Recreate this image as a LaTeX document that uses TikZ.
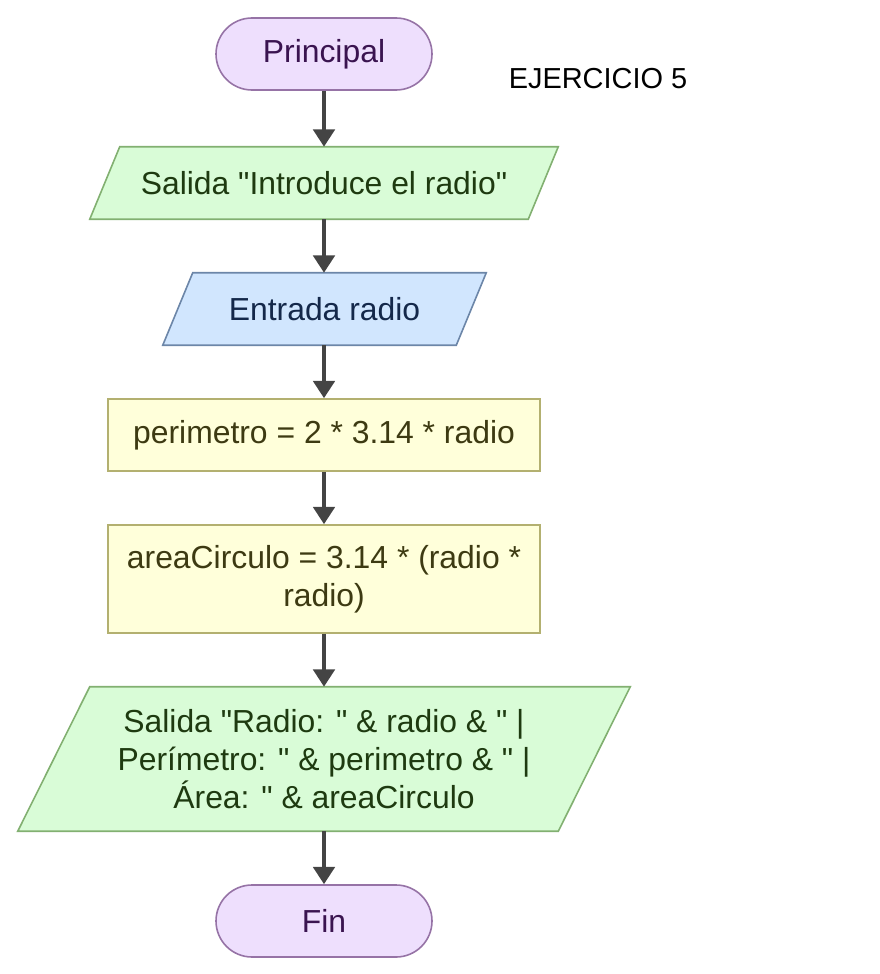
\documentclass[tikz,border=0pt]{standalone}
\usepackage{fontspec}
\setmainfont{Liberation Sans}[Ligatures=TeXOff]
\usetikzlibrary{arrows.meta,backgrounds}
\definecolor{termfill}{HTML}{EEDFFD}
\definecolor{termdraw}{HTML}{9673A6}
\definecolor{termtext}{HTML}{3A1450}
\definecolor{gfill}{HTML}{D9FCD7}
\definecolor{gdraw}{HTML}{82B071}
\definecolor{gtext}{HTML}{1E3A10}
\definecolor{bfill}{HTML}{D1E6FE}
\definecolor{bdraw}{HTML}{6C86A8}
\definecolor{btext}{HTML}{14284A}
\definecolor{yfill}{HTML}{FFFFDA}
\definecolor{ydraw}{HTML}{B3B070}
\definecolor{ytext}{HTML}{3D3A12}
\definecolor{arr}{HTML}{444444}
\tikzset{
  txt/.style={font=\fontsize{23.9pt}{28.5pt}\selectfont, align=center, inner sep=0pt},
  term/.style={txt, draw=termdraw, fill=termfill, text=termtext, line width=1.2pt,
    rounded corners=27pt, minimum width=162pt, minimum height=54pt},
  pbox/.style={txt, minimum height=54pt},
  gpar/.style={draw=gdraw, fill=gfill, line width=1.2pt},
  bpar/.style={draw=bdraw, fill=bfill, line width=1.2pt},
  proc/.style={txt, draw=ydraw, fill=yfill, text=ytext, line width=1.2pt,
    minimum width=324pt, minimum height=54pt},
  flow/.style={draw=arr, line width=3pt, -{Triangle[width=16pt,length=13pt]}},
}
\begin{document}
\begin{tikzpicture}[x=0.75pt,y=-0.75pt]
\useasboundingbox (0,0) rectangle (880,974);
\node[term] (start) at (324,54) {Principal};
\node[font=\fontsize{21.7pt}{26pt}\selectfont, inner sep=0pt] (title) at (598,79) {EJERCICIO 5};
\node[pbox, text=gtext, minimum width=351pt] (out1) at (324,183) {Salida "Introduce el radio"};
\node[pbox, text=btext, minimum width=242.25pt] (in1) at (324.5,309) {Entrada radio};
\node[proc] (per) at (324,435) {perimetro = 2 * 3.14 * radio};
\node[proc, minimum height=81pt] (area) at (324,579) {areaCirculo = 3.14 * (radio *\\ radio)};
\node[pbox, text=gtext, minimum width=459pt, minimum height=108pt] (out2) at (324,759)
  {Salida "Radio: " \& radio \& " |\\ Perímetro: " \& perimetro \& " |\\ Área: " \& areaCirculo};
\node[term] (fin) at (324,921) {Fin};
\begin{scope}[on background layer]
\draw[gpar] ([xshift=22.5pt]out1.north west) -- (out1.north east) -- ([xshift=-22.5pt]out1.south east) -- (out1.south west) -- cycle;
\draw[bpar] ([xshift=22.5pt]in1.north west) -- (in1.north east) -- ([xshift=-22.5pt]in1.south east) -- (in1.south west) -- cycle;
\draw[gpar] ([xshift=54pt]out2.north west) -- (out2.north east) -- ([xshift=-54pt]out2.south east) -- (out2.south west) -- cycle;
\end{scope}
\draw[flow] (start.south) -- (out1.north);
\draw[flow] (out1.south) -- (in1.north -| out1.south);
\draw[flow] (in1.south -| out1.south) -- (per.north);
\draw[flow] (per.south) -- (area.north);
\draw[flow] (area.south) -- (out2.north);
\draw[flow] (out2.south) -- (fin.north);
\end{tikzpicture}
\end{document}
